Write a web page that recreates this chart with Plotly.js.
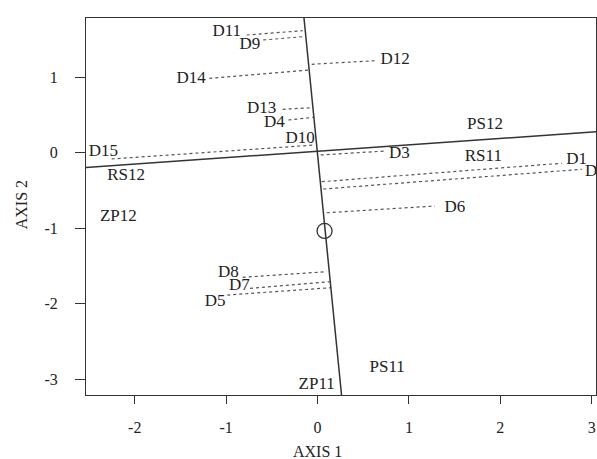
<!DOCTYPE html>
<html>
<head>
<meta charset="utf-8">
<script src="https://cdn.plot.ly/plotly-3.0.1.min.js"></script>
<style>html,body{margin:0;padding:0;background:#fff;}#chart{width:597px;height:459px;}</style>
</head>
<body>
<div id="chart"></div>
<script>
// Point labels and their positions (data units)
const labelNames = ["D11","D9","D14","D13","D4","D10","D15","D12","PS12","D3","RS11","D1","D2","D6","D8","D7","D5","ZP11","PS11","RS12","ZP12"];
const labelX = [-0.993,-0.739,-1.384,-0.611,-0.473,-0.191,-2.344,0.848,1.833,0.895,1.814,2.836,3.04,1.504,-0.976,-0.856,-1.121,-0.009,0.762,-2.095,-2.179];
const labelY = [1.603,1.426,0.985,0.588,0.397,0.191,0.013,1.228,0.367,-0.017,-0.053,-0.097,-0.251,-0.723,-1.589,-1.766,-1.974,-3.068,-2.842,-0.309,-0.848];

// Dotted projection segments
const segNames = ["D11","D9","D14","D13","D4","D15","D12","D3","D1","D2","D6","D8","D7","D5"];
const segX0 = [-0.775,-0.593,-1.184,-0.381,-0.319,-2.252,-0.063,0.035,0.046,0.063,0.101,-0.818,-0.739,-0.987];
const segY0 = [1.559,1.493,0.985,0.575,0.433,-0.083,1.171,-0.030,-0.384,-0.481,-0.795,-1.650,-1.796,-1.885];
const segX1 = [-0.162,-0.162,-0.096,-0.063,-0.046,-0.027,0.640,0.749,2.672,2.891,1.286,0.101,0.137,0.144];
const segY1 = [1.616,1.536,1.095,0.596,0.469,0.102,1.219,0.023,-0.140,-0.220,-0.706,-1.576,-1.709,-1.788];

// Two solid ordination axes
const vertLineX = [-0.148, 0.263];
const vertLineY = [1.784, -3.209];
const horizLineX = [-2.533, 3.047];
const horizLineY = [-0.196, 0.278];

// Marker
const markX = [0.077];
const markY = [-1.036];

const xTicks = [-2,-1,0,1,2,3];
const yTicks = [-3,-2,-1,0,1];

const sx = [], sy = [];
for (let i = 0; i < segNames.length; i++) {
  sx.push(segX0[i], segX1[i], null);
  sy.push(segY0[i], segY1[i], null);
}

const FONT = "Liberation Serif, Times New Roman, serif";

const traces = [
  {x: sx, y: sy, mode: 'lines', line: {color: '#555', width: 1.2, dash: 'dot'}, hoverinfo: 'skip'},
  {x: vertLineX, y: vertLineY, mode: 'lines', line: {color: '#333', width: 1.5}},
  {x: horizLineX, y: horizLineY, mode: 'lines', line: {color: '#333', width: 1.5}},
  {x: markX, y: markY, mode: 'markers', marker: {symbol: 'circle-open', size: 15, color: '#333', line: {width: 1.3}}},
  {x: labelX, y: labelY, text: labelNames, mode: 'text', textposition: 'middle center',
   textfont: {family: FONT, size: 17, color: '#222'}, cliponaxis: false}
];

const layout = {
  width: 597, height: 459,
  margin: {l: 86, r: 1, t: 18, b: 64},
  paper_bgcolor: '#fff', plot_bgcolor: '#fff',
  showlegend: false,
  font: {family: FONT, size: 16, color: '#222'},
  xaxis: {
    range: [-2.533, 3.047], tickvals: xTicks, ticktext: xTicks.map(String),
    ticks: 'outside', ticklen: 8, tickwidth: 1, tickcolor: '#333',
    showline: true, mirror: true, linecolor: '#333', linewidth: 1,
    showgrid: false, zeroline: false, ticklabelstandoff: 10,
    tickfont: {family: FONT, size: 16, color: '#222'}
  },
  yaxis: {
    range: [-3.209, 1.784], tickvals: yTicks, ticktext: yTicks.map(String),
    ticks: 'outside', ticklen: 10, tickwidth: 1, tickcolor: '#333',
    showline: true, mirror: true, linecolor: '#333', linewidth: 1,
    showgrid: false, zeroline: false, ticklabelstandoff: 14,
    tickfont: {family: FONT, size: 16, color: '#222'}
  },
  annotations: [
    {text: 'AXIS 1', xref: 'x', x: 0, yref: 'paper', y: -0.150, yanchor: 'middle', xanchor: 'center',
     showarrow: false, font: {family: FONT, size: 16, color: '#222'}},
    {text: 'AXIS 2', xref: 'paper', x: -0.125, yref: 'paper', y: 0.504, yanchor: 'middle', xanchor: 'center',
     textangle: -90, showarrow: false, font: {family: FONT, size: 16, color: '#222'}}
  ]
};

Plotly.newPlot('chart', traces, layout, {displayModeBar: false, staticPlot: true});
</script>
</body>
</html>
